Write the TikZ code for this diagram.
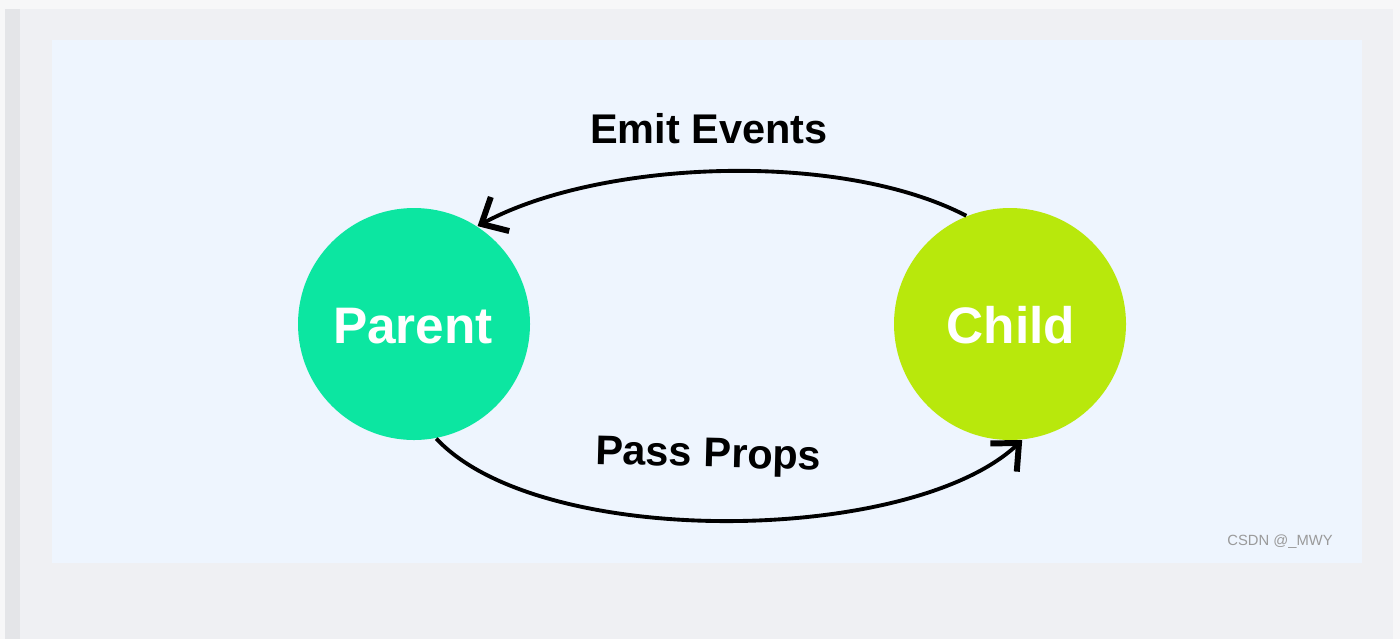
\documentclass[tikz,border=0pt]{standalone}
\usepackage{fontspec}
\setmainfont{Liberation Sans}
\usetikzlibrary{arrows.meta}
\definecolor{pagebg}{HTML}{F7F7F8}
\definecolor{outerbg}{HTML}{EFF0F3}
\definecolor{stripbg}{HTML}{E4E5E8}
\definecolor{panelbg}{HTML}{EEF5FE}
\definecolor{parentc}{HTML}{0CE6A1}
\definecolor{childc}{HTML}{B8E80C}
\definecolor{markc}{HTML}{9A9A9A}
\newlength{\pxu}
\setlength{\pxu}{0.01cm}
\tikzset{
  ball/.style={circle, minimum size=232\pxu, inner sep=0pt},
  balltext/.style={font=\bfseries\fontsize{14.6}{16}\selectfont, text=white, anchor=base},
  lbl/.style={font=\bfseries\fontsize{11.8}{14}\selectfont, text=black, anchor=base},
  flow/.style={line width=1.1pt, -{Straight Barb[length=6pt, width=11pt, line width=1.7pt]}},
}
\begin{document}
\begin{tikzpicture}[x=0.01cm, y=-0.01cm]
\useasboundingbox (0,0) rectangle (1400,639);
\fill[pagebg] (0,0) rectangle (1400,639);
\fill[outerbg] (20,9) rectangle (1393,639);
\fill[stripbg] (5,9) rectangle (20,639);
\fill[panelbg] (52,40) rectangle (1362,563);
\node[ball, fill=parentc] (parent) at (414,324) {};
\node[ball, fill=childc] (child) at (1010,324) {};
\node[balltext] (parentlbl) at (413,343) {Parent};
\node[balltext] (childlbl) at (1011,343) {Child};
\node[lbl] (emit) at (709,143) {Emit Events};
\node[lbl, rotate=-1.5] (pass) at (708,467) {Pass Props};
\draw[flow] (child.112) .. controls (840,150) and (600,160) .. (parent.57);
\draw[flow] (parent.-79) .. controls (540,550) and (910,545) .. (child.-84);
\node[font=\fontsize{4.2}{5}\selectfont, text=markc, anchor=base] (mark) at (1280,545) {CSDN @\_MWY};
\end{tikzpicture}
\end{document}
